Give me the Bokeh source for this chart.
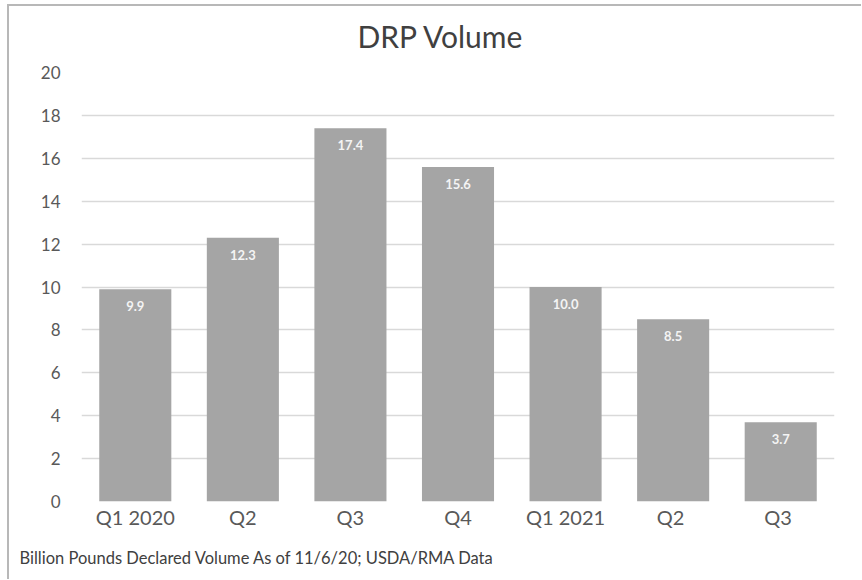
from bokeh.plotting import figure
from bokeh.models import ColumnDataSource, Title
from bokeh.core.properties import value
from bokeh.embed import file_html
from bokeh.resources import INLINE

# Quarterly DRP declared volume, billion pounds
quarters = ["Q1 2020", "Q2", "Q3", "Q4", "Q1 2021", "Q2 ", "Q3 "]
volumes = [9.9, 12.3, 17.4, 15.6, 10.0, 8.5, 3.7]
y_ticks = [0, 2, 4, 6, 8, 10, 12, 14, 16, 18, 20]

FONT = "Lato"
TEXT_COLOR = "#595959"

source = ColumnDataSource(dict(
    quarter=quarters,
    volume=volumes,
    label=[f"{v:.1f}" for v in volumes],
))

p = figure(
    x_range=quarters, y_range=(0, 20),
    width=854, height=575,
    output_backend="svg", toolbar_location=None,
    min_border_left=72, min_border_right=29,
    min_border_top=66, min_border_bottom=78,
)
p.styles = {
    "margin-left": "7px", "margin-top": "4px",
    "border-left": "2px solid #b8b8b8", "border-top": "2px solid #b8b8b8",
}

p.title.text = "DRP Volume"
p.title.align = "left"
p.title.offset = 276
p.title.vertical_align = "top"
p.title.standoff = 0
p.title.text_font = FONT
p.title.text_font_size = "30px"
p.title.text_font_style = "normal"
p.title.text_color = "#404040"

# thin blank band between the heading and the plot area
p.add_layout(Title(text=" ", text_font_size="1px", standoff=14), "above")

p.vbar(x="quarter", top="volume", width=0.67, source=source,
       fill_color="#a5a5a5", line_color=None)

p.text(x="quarter", y="volume", text="label", source=source,
       y_offset=17, text_align="center", text_baseline="middle",
       text_font=value(FONT), text_font_size="13px",
       text_font_style="bold", text_color="#f4f4f4")

p.outline_line_color = None
p.xgrid.grid_line_color = None
p.ygrid.grid_line_color = "#d9d9d9"
p.ygrid.grid_line_width = 1.5
p.yaxis.ticker = y_ticks

for ax in (p.xaxis, p.yaxis):
    ax.axis_line_color = None
    ax.major_tick_line_color = None
    ax.minor_tick_line_color = None
    ax.major_label_text_font = FONT
    ax.major_label_text_color = TEXT_COLOR

p.yaxis.major_label_text_font_size = "17px"
p.yaxis.major_label_standoff = 15
p.xaxis.major_label_text_font_size = "20px"
p.xaxis.major_label_standoff = -3

note = Title(text="Billion Pounds Declared Volume As of 11/6/20; USDA/RMA Data",
             align="left", offset=-62, standoff=28,
             text_font=FONT, text_font_size="16.5px",
             text_font_style="normal", text_color="#404040")
p.add_layout(note, "below")

open("out.html", "w").write(file_html(p, INLINE))
